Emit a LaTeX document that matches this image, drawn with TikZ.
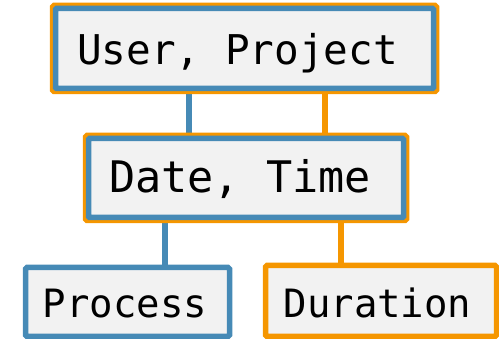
\documentclass[tikz,border=0pt]{standalone}
\usepackage{fontspec}
\setmonofont{DejaVu Sans Mono}
\usetikzlibrary{backgrounds}
\definecolor{keyblue}{RGB}{70,138,182}
\definecolor{keyorange}{RGB}{245,150,0}
\definecolor{boxfill}{RGB}{242,242,242}
\begin{document}
\begin{tikzpicture}[x=1pt,y=1pt,
  keybox/.style={rectangle, fill=boxfill, line width=5.5pt, rounded corners=1.5pt, inner sep=0pt},
  keytext/.style={anchor=base, inner sep=0pt, text=black, font=\ttfamily\fontsize{#1}{#1}\selectfont},
  link/.style={line width=5.5pt}]
  \useasboundingbox (0,0) rectangle (499,339);

  % column positions of the connectors
  \coordinate (ua) at (189,0);
  \coordinate (ub) at (325,0);
  \coordinate (la) at (165,0);
  \coordinate (lb) at (341,0);

  % boxes
  \node[keybox, draw=keyorange, minimum width=384pt, minimum height=86pt] (top) at (244.5,290.5) {};
  \node[keybox, draw=keyorange, minimum width=321pt, minimum height=85pt] (mid) at (246,161) {};
  \node[keybox, draw=keyblue, minimum width=204pt, minimum height=69pt] (proc) at (127.5,37) {};
  \node[keybox, draw=keyorange, minimum width=231pt, minimum height=71pt] (dur) at (381,38) {};

  % inner blue frames of the combined keys
  \foreach \n in {top,mid}
    \draw[keyblue, line width=5.5pt, rounded corners=1pt]
      ([shift={(5.75pt,5.75pt)}]\n.south west) rectangle ([shift={(-5.75pt,-5.75pt)}]\n.north east);

  % key names
  \node[keytext=41] (topt) at (237.5,274) {User, Project};
  \node[keytext=43.5] (midt) at (240,146) {Date, Time};
  \node[keytext=39] (proct) at (125,21) {Process};
  \node[keytext=39] (durt) at (377.5,21) {Duration};

  % connectors between the levels, behind the boxes
  \begin{pgfonlayer}{background}
    \draw[link, keyblue] (top.south -| ua) -- (mid.north -| ua);
    \draw[link, keyorange] (top.south -| ub) -- (mid.north -| ub);
    \draw[link, keyblue] (mid.south -| la) -- (proc.north -| la);
    \draw[link, keyorange] (mid.south -| lb) -- (dur.north -| lb);
  \end{pgfonlayer}
\end{tikzpicture}
\end{document}
